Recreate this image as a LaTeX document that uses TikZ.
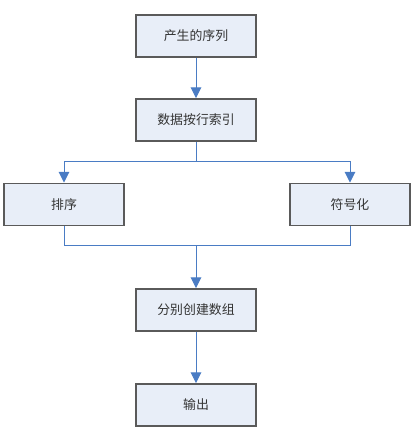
\documentclass[tikz,border=0pt]{standalone}
\usepackage{fontspec}
\newfontfamily\cjk{Noto Sans CJK SC}
\usetikzlibrary{arrows.meta}
\definecolor{boxfill}{HTML}{E8EEF8}
\definecolor{boxline}{HTML}{5A5A5A}
\definecolor{flow}{HTML}{4A7CC4}
\tikzset{
  stepbox/.style={draw=boxline,line width=1.4pt,fill=boxfill,minimum width=3.6cm,minimum height=1.27cm,inner sep=0pt,font=\cjk\fontsize{11}{13}\selectfont,text=black!80},
  flowline/.style={draw=flow,line width=0.8pt},
  flowarrow/.style={flowline,-{Triangle[length=9pt,width=9pt]}}
}
\begin{document}
\begin{tikzpicture}[x=0.03cm,y=-0.03cm]
		\useasboundingbox (0,0) rectangle (413,438);
		\node[stepbox] (gen) at (196,36){产生的序列}; %生成
		\node[stepbox] (idx) at (196,120){数据按行索引}; %索引
		\node[stepbox] (sort) at (64,204.5){排序};
		\node[stepbox] (sym) at (350,204.5){符号化};
		\node[stepbox] (arr) at (196,310){分别创建数组};
		\node[stepbox] (out) at (196,405){输出};
		\coordinate (split) at (196,161); %分岔
		\coordinate (join) at (196,245); %汇合
		\draw[flowarrow] (gen)--(idx);
		\draw[flowline] (idx)--(split);
		\draw[flowarrow] (split)-|(sort);
		\draw[flowarrow] (split)-|(sym);
		\draw[flowline] (sort)|-(join);
		\draw[flowline] (sym)|-(join);
		\draw[flowarrow] (join)--(arr);
		\draw[flowarrow] (arr)--(out);
	\end{tikzpicture}
\end{document}
